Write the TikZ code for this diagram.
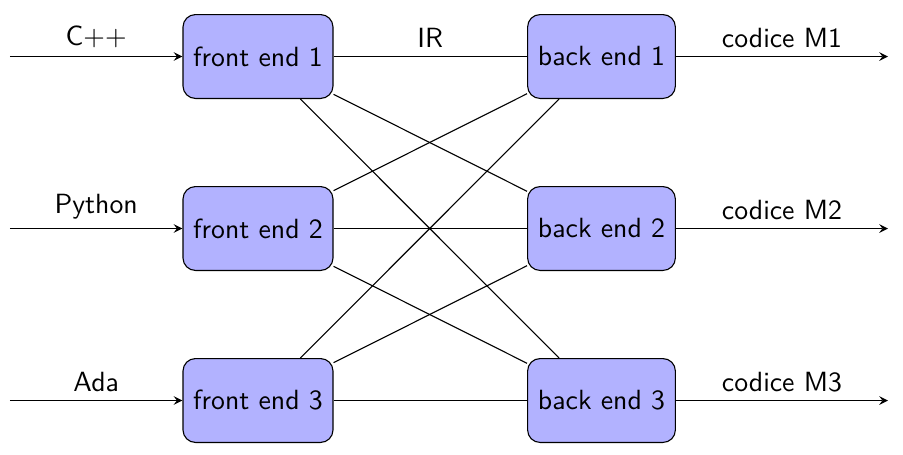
\documentclass[tikz,border=0pt]{standalone}
\usetikzlibrary{arrows}
\begin{document}
\begin{tikzpicture}[x=0.36pt,y=-0.36pt,font=\sffamily,
  fbox/.style={draw,fill=blue!30,rounded corners=4.5pt,minimum width=54pt,minimum height=30.2pt,inner sep=0pt},
  bbox/.style={fbox,minimum width=53.2pt},
  arr/.style={-stealth},
  lbl/.style={above,midway,inner sep=2pt,yshift=1pt}]
\useasboundingbox (0,0) rectangle (903,455);
\node[fbox] (f1) at (258,56.5) {front end 1};
\node[fbox] (f2) at (258,228.5) {front end 2};
\node[fbox] (f3) at (258,400.5) {front end 3};
\node[bbox] (b1) at (601.5,56.5) {back end 1};
\node[bbox] (b2) at (601.5,228.5) {back end 2};
\node[bbox] (b3) at (601.5,400.5) {back end 3};
\coordinate (i1) at (10,56.5);
\coordinate (i2) at (10,228.5);
\coordinate (i3) at (10,400.5);
\coordinate (o1) at (888,56.5);
\coordinate (o2) at (888,228.5);
\coordinate (o3) at (888,400.5);
\draw[arr] (i1) -- (f1) node[lbl] {C++};
\draw[arr] (i2) -- (f2) node[lbl] {Python};
\draw[arr] (i3) -- (f3) node[lbl] {Ada};
\draw[arr] (b1) -- (o1) node[lbl] {codice M1};
\draw[arr] (b2) -- (o2) node[lbl] {codice M2};
\draw[arr] (b3) -- (o3) node[lbl] {codice M3};
\draw (f1) -- (b1) node[lbl] {IR};
\draw (f1) -- (b2);
\draw (f1) -- (b3);
\draw (f2) -- (b1);
\draw (f2) -- (b2);
\draw (f2) -- (b3);
\draw (f3) -- (b1);
\draw (f3) -- (b2);
\draw (f3) -- (b3);
\end{tikzpicture}
\end{document}
